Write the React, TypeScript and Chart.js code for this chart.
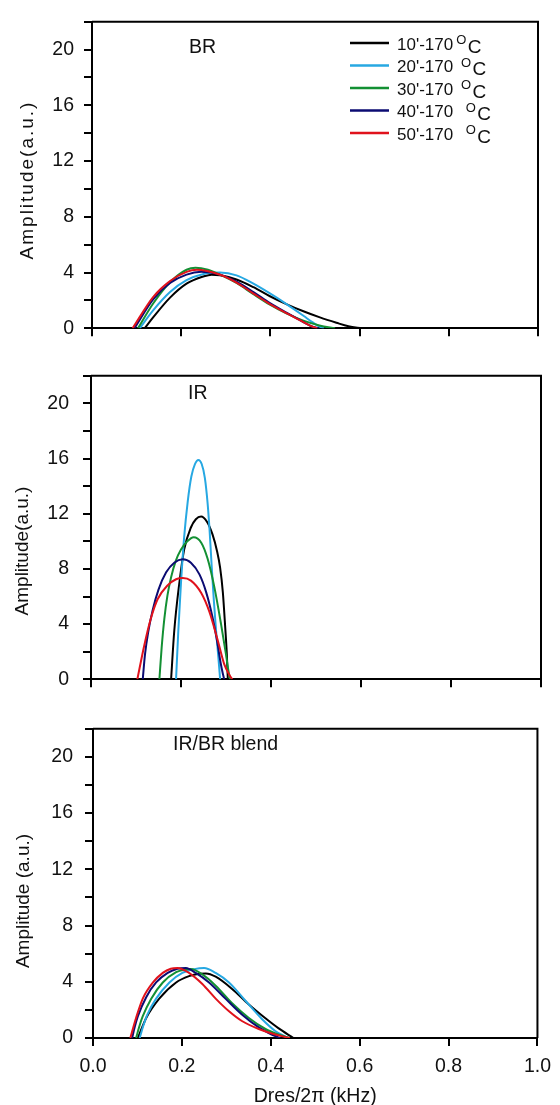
import React, { useEffect, useRef } from "react";
import { Chart, registerables } from "chart.js";

Chart.register(...registerables);
Chart.defaults.font.family = "'Liberation Sans', Arial, sans-serif";

type Pt = [number, number];

// ---- series / labels ----
const seriesLabels = ["10'-170", "20'-170 ", "30'-170 ", "40'-170  ", "50'-170  "];
const seriesColors = ["#000000", "#27a8e2", "#139033", "#0b0b72", "#e0121c"];
const panelNames = ["BR", "IR", "IR/BR blend"];
const yTitles = ["Amplitude(a.u.)", "Amplitude(a.u.)", "Amplitude (a.u.)"];
const xTitle = "Dres/2\u03c0 (kHz)";
const xTickStep = 0.2;
const yTickStep = 2;
const yLabelEvery = 4;
const yMax = 22;

// ---- BR panel ----
const br10: Pt[] = [[0.118,0],[0.1375,0.8],[0.175,2.2],[0.212,3.2],[0.25,3.72],[0.268,3.85],[0.287,3.8],[0.324,3.5],[0.362,2.95],[0.399,2.3],[0.437,1.72],[0.474,1.22],[0.511,0.78],[0.548,0.4],[0.575,0.15],[0.605,0]];
const br20: Pt[] = [[0.107,0],[0.1375,1.3],[0.175,2.6],[0.212,3.45],[0.25,3.9],[0.287,4.0],[0.324,3.8],[0.362,3.2],[0.399,2.5],[0.437,1.72],[0.474,0.9],[0.495,0.42],[0.51,0.12],[0.52,0]];
const br30: Pt[] = [[0.103,0],[0.1375,1.8],[0.175,3.3],[0.212,4.2],[0.232,4.35],[0.26,4.2],[0.287,3.85],[0.324,3.25],[0.362,2.45],[0.399,1.7],[0.437,1.05],[0.474,0.55],[0.51,0.2],[0.545,0]];
const br40: Pt[] = [[0.095,0],[0.1375,2.1],[0.175,3.25],[0.212,3.85],[0.245,4.05],[0.287,3.85],[0.324,3.35],[0.362,2.6],[0.399,1.8],[0.437,1.1],[0.474,0.45],[0.492,0.15],[0.508,0]];
const br50: Pt[] = [[0.091,0],[0.1375,2.26],[0.175,3.39],[0.212,4.05],[0.235,4.2],[0.287,3.84],[0.324,3.28],[0.362,2.49],[0.399,1.74],[0.437,1.07],[0.474,0.45],[0.49,0.18],[0.505,0]];

// ---- IR panel ----
const ir10: Pt[] = [[0.178,0],[0.185,3.5],[0.196,6.9],[0.207,9.4],[0.222,11.0],[0.233,11.6],[0.2445,11.8],[0.258,11.4],[0.27,10.5],[0.28,9.3],[0.287,8.07],[0.293,6.3],[0.298,3.9],[0.302,1.7],[0.304,0]];
const ir20: Pt[] = [[0.189,0],[0.194,3.5],[0.2,7.0],[0.207,10.3],[0.215,12.9],[0.223,14.7],[0.231,15.6],[0.2386,15.9],[0.246,15.6],[0.253,14.6],[0.259,12.8],[0.2635,10.8],[0.268,8.3],[0.273,5.7],[0.278,3.5],[0.283,1.6],[0.287,0]];
const ir30: Pt[] = [[0.152,0],[0.157,2.3],[0.163,4.4],[0.17,6.1],[0.178,7.4],[0.188,8.55],[0.2,9.4],[0.214,10.0],[0.228,10.3],[0.245,9.9],[0.259,8.75],[0.274,6.7],[0.289,4.0],[0.3,1.8],[0.305,0.7],[0.309,0]];
const ir40: Pt[] = [[0.115,0],[0.12,1.8],[0.127,3.4],[0.137,5.0],[0.15,6.5],[0.167,7.75],[0.185,8.45],[0.204,8.7],[0.222,8.45],[0.241,7.6],[0.256,6.3],[0.27,4.5],[0.28,2.8],[0.288,1.2],[0.293,0.4],[0.296,0]];
const ir50: Pt[] = [[0.103,0],[0.118,2.4],[0.133,4.4],[0.148,5.8],[0.17,6.8],[0.189,7.25],[0.204,7.34],[0.222,7.15],[0.245,6.25],[0.263,4.9],[0.281,2.9],[0.296,1.1],[0.308,0.3],[0.314,0]];

// ---- IR/BR blend panel ----
const bl10: Pt[] = [[0.101,0],[0.12,1.44],[0.149,2.8],[0.187,3.95],[0.216,4.4],[0.239,4.57],[0.254,4.59],[0.276,4.36],[0.313,3.49],[0.35,2.4],[0.388,1.4],[0.417,0.7],[0.451,0]];
const bl20: Pt[] = [[0.105,0],[0.113,0.85],[0.122,1.65],[0.142,2.8],[0.172,3.95],[0.201,4.63],[0.228,4.9],[0.25,4.98],[0.276,4.63],[0.306,3.95],[0.343,2.65],[0.38,1.35],[0.41,0.5],[0.44,0]];
const bl30: Pt[] = [[0.097,0],[0.104,0.8],[0.112,1.55],[0.131,2.8],[0.157,3.95],[0.187,4.68],[0.205,4.86],[0.22,4.9],[0.246,4.52],[0.276,3.72],[0.313,2.47],[0.35,1.44],[0.388,0.64],[0.417,0.25],[0.443,0]];
const bl40: Pt[] = [[0.088,0],[0.094,0.8],[0.101,1.55],[0.12,2.92],[0.142,3.95],[0.168,4.63],[0.19,4.93],[0.209,4.98],[0.231,4.63],[0.261,3.95],[0.298,2.8],[0.335,1.67],[0.373,0.75],[0.402,0.25],[0.421,0]];
const bl50: Pt[] = [[0.084,0],[0.097,1.44],[0.112,2.8],[0.135,3.95],[0.157,4.63],[0.175,4.93],[0.19,4.98],[0.216,4.63],[0.246,3.84],[0.276,2.8],[0.306,1.9],[0.335,1.21],[0.373,0.64],[0.41,0.25],[0.443,0]];

const panelSeries: Pt[][][] = [
  [br10, br20, br30, br40, br50],
  [ir10, ir20, ir30, ir40, ir50],
  [bl10, bl20, bl30, bl40, bl50],
];

const FONT = "'Liberation Sans', Arial, sans-serif";
const TEXT = "#111";

interface PanelLayout {
  top: number; height: number; padTop: number; padRight: number;
  xAxisH: number; yAxisW: number; yPad: number; showX: boolean;
  labelX: number; labelY: number; titleX: number; titleY: number;
  titleSpacing: number; legend: boolean;
}

const layouts: PanelLayout[] = [
  { top: 0, height: 350, padTop: 13, padRight: 22, xAxisH: 12, yAxisW: 92, yPad: 10, showX: false,
    labelX: 189, labelY: 53, titleX: 28, titleY: 180, titleSpacing: 2, legend: true },
  { top: 350, height: 355, padTop: 14, padRight: 19, xAxisH: 13, yAxisW: 91, yPad: 14, showX: false,
    labelX: 188, labelY: 49, titleX: 23, titleY: 201, titleSpacing: 0, legend: false },
  { top: 705, height: 400, padTop: 12, padRight: 19, xAxisH: 67, yAxisW: 93, yPad: 12, showX: true,
    labelX: 173, labelY: 45, titleX: 24, titleY: 196, titleSpacing: 0, legend: false },
];

const decorPlugin = {
  id: "decor",
  afterDraw(chart: any, _args: any, opts: any) {
    const { ctx, chartArea: a } = chart;
    ctx.save();
    // frame (top + right)
    ctx.strokeStyle = "#000";
    ctx.lineWidth = 2;
    ctx.beginPath();
    ctx.moveTo(a.left, a.top);
    ctx.lineTo(a.right, a.top);
    ctx.lineTo(a.right, a.bottom);
    ctx.stroke();

    // panel label
    ctx.fillStyle = TEXT;
    ctx.font = `19.5px ${FONT}`;
    ctx.textAlign = "left";
    ctx.textBaseline = "alphabetic";
    ctx.fillText(opts.panelName, opts.labelX, opts.labelY);

    // y title
    ctx.save();
    ctx.translate(opts.titleX, opts.titleY);
    ctx.rotate(-Math.PI / 2);
    ctx.font = `19px ${FONT}`;
    (ctx as any).letterSpacing = `${opts.titleSpacing}px`;
    ctx.textAlign = "center";
    ctx.textBaseline = "middle";
    ctx.fillText(opts.yTitle, 0, 0);
    ctx.restore();

    if (opts.legend) {
      const rowY = [43, 65.5, 88, 110.5, 133];
      chart.data.datasets.forEach((ds: any, i: number) => {
        const y = rowY[i];
        ctx.strokeStyle = ds.borderColor;
        ctx.lineWidth = 2.5;
        ctx.beginPath();
        ctx.moveTo(350, y);
        ctx.lineTo(389, y);
        ctx.stroke();
        ctx.fillStyle = TEXT;
        ctx.textBaseline = "alphabetic";
        ctx.textAlign = "left";
        ctx.font = `17px ${FONT}`;
        const main = seriesLabels[i];
        ctx.fillText(main, 397, y + 6.5);
        let x = 397 + ctx.measureText(main).width + 3;
        ctx.font = `13px ${FONT}`;
        ctx.fillText("O", x, y + 1);
        x += ctx.measureText("O").width + 1.5;
        ctx.font = `19px ${FONT}`;
        ctx.fillText("C", x, y + 9.5);
      });
    }
    ctx.restore();
  },
};

function Panel({ index }: { index: number }) {
  const ref = useRef<HTMLCanvasElement>(null);
  const L = layouts[index];
  useEffect(() => {
    const series = panelSeries[index];
    const chart = new Chart(ref.current as HTMLCanvasElement, {
      type: "line",
      data: {
        datasets: series.map((s, i) => ({
          label: `${seriesLabels[i].trim()} °C`,
          data: s.map(([x, y]) => ({ x, y })),
          borderColor: seriesColors[i],
          backgroundColor: seriesColors[i],
          borderWidth: 2,
          pointRadius: 0,
          fill: false,
          cubicInterpolationMode: "monotone",
          order: series.length - i,
        })),
      },
      plugins: [decorPlugin],
      options: {
        animation: false,
        responsive: false,
        devicePixelRatio: 1,
        layout: { padding: { top: L.padTop, right: L.padRight, bottom: 0, left: 0 } },
        plugins: {
          legend: { display: false },
          tooltip: { enabled: false },
          decor: {
            panelName: panelNames[index], yTitle: yTitles[index],
            labelX: L.labelX, labelY: L.labelY, titleX: L.titleX, titleY: L.titleY,
            titleSpacing: L.titleSpacing, legend: L.legend,
          },
        } as any,
        scales: {
          x: {
            type: "linear",
            min: 0,
            max: 1,
            afterFit: (s: any) => { s.height = L.xAxisH; },
            grid: { display: true, drawOnChartArea: false, drawTicks: true, tickLength: 8, color: "#000", lineWidth: 2 },
            border: { display: true, color: "#000", width: 2 },
            ticks: {
              display: L.showX,
              stepSize: xTickStep,
              padding: 9,
              color: TEXT,
              font: { size: 19.5, family: FONT },
              maxRotation: 0,
              autoSkip: false,
              callback: (v: any) => Number(v).toFixed(1),
            },
            title: {
              display: L.showX,
              text: xTitle,
              color: TEXT,
              font: { size: 19.5, family: FONT, lineHeight: 16 / 19.5 },
              padding: 0,
            },
          },
          y: {
            type: "linear",
            min: 0,
            max: yMax,
            afterFit: (s: any) => { s.width = L.yAxisW; },
            grid: { display: true, drawOnChartArea: false, drawTicks: true, tickLength: 8, color: "#000", lineWidth: 2 },
            border: { display: true, color: "#000", width: 2 },
            ticks: {
              stepSize: yTickStep,
              autoSkip: false,
              padding: L.yPad,
              color: TEXT,
              font: { size: 19.5, family: FONT },
              callback: (v: any) => (Number(v) % yLabelEvery === 0 && Number(v) < yMax ? String(v) : ""),
            },
          },
        },
      } as any,
    });
    return () => chart.destroy();
  }, [index]);
  return (
    <canvas
      ref={ref}
      width={560}
      height={L.height}
      style={{ position: "absolute", left: 0, top: L.top, width: 560, height: L.height }}
    />
  );
}

export default function App() {
  return (
    <div style={{ position: "absolute", left: 0, top: 0, width: 560, height: 1105, background: "#fff", overflow: "hidden" }}>
      <Panel index={0} />
      <Panel index={1} />
      <Panel index={2} />
    </div>
  );
}
